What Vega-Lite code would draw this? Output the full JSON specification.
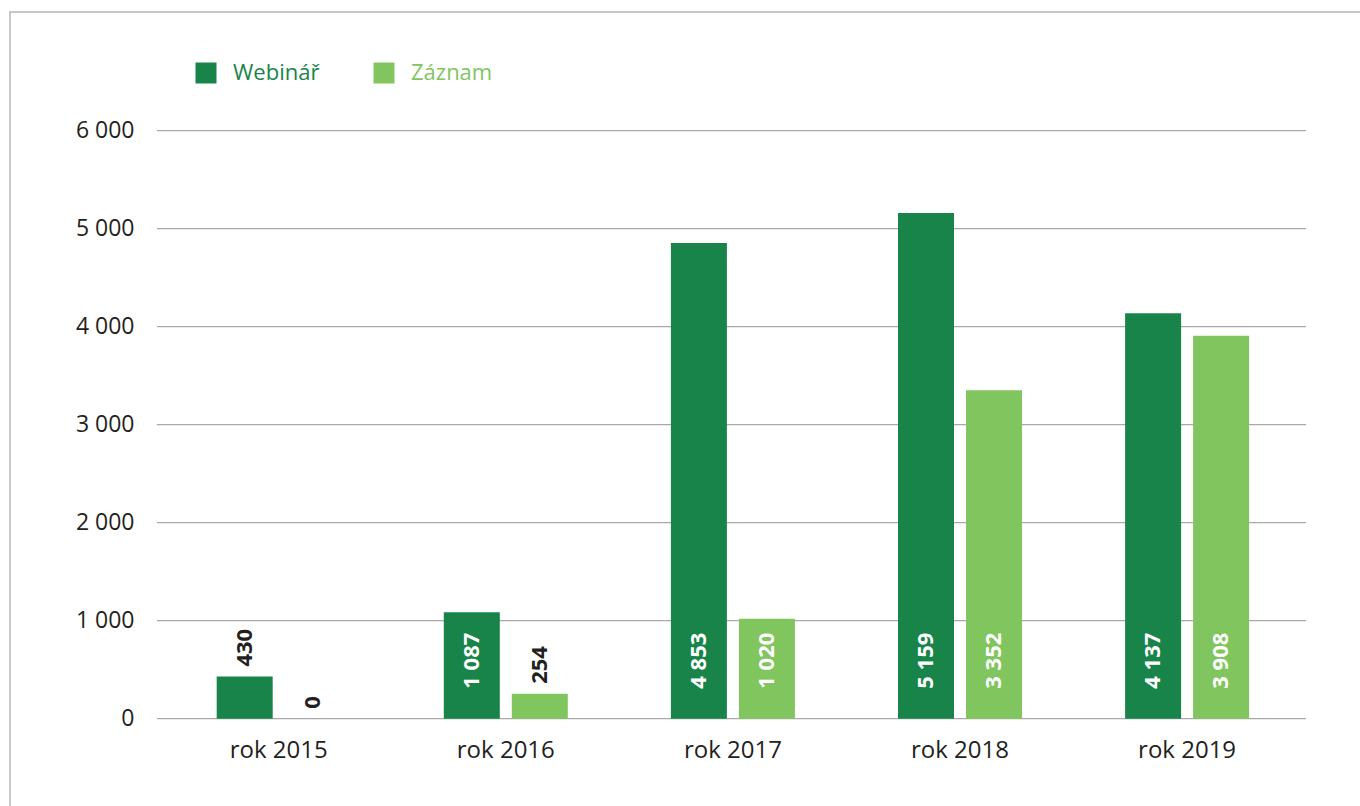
{
  "$schema": "https://vega.github.io/schema/vega-lite/v6.json",
  "width": 1354,
  "height": 798,
  "autosize": {"type": "none"},
  "padding": {"left": 10, "top": 12, "right": -4, "bottom": -4},
  "background": "white",
  "config": {
    "view": {"stroke": "#b5b5b5", "strokeWidth": 1.5},
    "font": "Open Sans",
    "locale": {"number": {"decimal": ",", "thousands": " ", "grouping": [3], "currency": ["", " Kč"]}}
  },
  "datasets": {
    "bars": [
      {"year": "rok 2015", "series": "Webinář", "value": 430},
      {"year": "rok 2015", "series": "Záznam", "value": 0},
      {"year": "rok 2016", "series": "Webinář", "value": 1087},
      {"year": "rok 2016", "series": "Záznam", "value": 254},
      {"year": "rok 2017", "series": "Webinář", "value": 4853},
      {"year": "rok 2017", "series": "Záznam", "value": 1020},
      {"year": "rok 2018", "series": "Webinář", "value": 5159},
      {"year": "rok 2018", "series": "Záznam", "value": 3352},
      {"year": "rok 2019", "series": "Webinář", "value": 4137},
      {"year": "rok 2019", "series": "Záznam", "value": 3908}
    ],
    "grid": [{"g": 0}, {"g": 1000}, {"g": 2000}, {"g": 3000}, {"g": 4000}, {"g": 5000}, {"g": 6000}]
  },
  "layer": [
    {
      "data": {"name": "grid"},
      "mark": {"type": "rule", "color": "#a9a9a9", "strokeWidth": 1.3},
      "encoding": {
        "y": {"field": "g", "type": "quantitative"},
        "x": {"datum": "rok 2015", "type": "nominal", "bandPosition": -0.036},
        "x2": {"datum": "rok 2019", "bandPosition": 1.024}
      }
    },
    {
      "data": {"name": "bars"},
      "mark": {"type": "bar"},
      "encoding": {
        "x": {
          "field": "year", "type": "nominal", "title": null,
          "scale": {"domain": ["rok 2015", "rok 2016", "rok 2017", "rok 2018", "rok 2019"], "paddingInner": 0, "paddingOuter": 0.48106, "align": 0.71007},
          "axis": {"domain": false, "ticks": false, "tickSize": 0, "offset": -91.3, "labelPadding": 39, "labelBaseline": "alphabetic", "labelAlign": "center", "labelFontSize": 24, "labelColor": "#231f20", "labelAngle": 0, "title": null}
        },
        "xOffset": {"field": "series", "type": "nominal", "scale": {"domain": ["Webinář", "Záznam"], "paddingInner": 0.1765, "paddingOuter": 0.758}},
        "y": {
          "field": "value", "type": "quantitative", "stack": null, "title": null,
          "scale": {"domain": [-931.6, 7211.2], "nice": false},
          "axis": {"values": [0, 1000, 2000, 3000, 4000, 5000, 6000], "labelExpr": "format(datum.value, ',')", "grid": false, "domain": false, "ticks": false, "tickSize": 0, "offset": -147, "labelPadding": 23, "labelFontSize": 23, "labelColor": "#231f20", "title": null}
        },
        "color": {
          "field": "series", "type": "nominal",
          "scale": {"domain": ["Webinář", "Záznam"], "range": ["#18844a", "#81c55f"]},
          "legend": {"orient": "none", "legendX": 185, "legendY": 50, "direction": "horizontal", "title": null, "symbolType": "square", "symbolSize": 441, "symbolStrokeWidth": 0, "labelFontSize": 22, "labelOffset": 16, "columnPadding": 53, "padding": 0, "encode": {"labels": {"update": {"fill": {"signal": "scale('color', datum.value)"}}}}}
        }
      }
    },
    {
      "data": {"name": "bars"},
      "transform": [{"filter": "datum.value < 500"}],
      "mark": {"type": "text", "angle": 270, "align": "left", "baseline": "middle", "dx": 10, "fontWeight": "bold", "fontSize": 22, "color": "#231f20"},
      "encoding": {
        "x": {"field": "year", "type": "nominal"},
        "xOffset": {"field": "series", "type": "nominal"},
        "y": {"field": "value", "type": "quantitative"},
        "text": {"field": "value", "type": "quantitative", "format": ","}
      }
    },
    {
      "data": {"name": "bars"},
      "transform": [{"filter": "datum.value >= 500"}],
      "mark": {"type": "text", "angle": 270, "align": "left", "baseline": "middle", "dx": 30, "fontWeight": "bold", "fontSize": 22, "color": "white"},
      "encoding": {
        "x": {"field": "year", "type": "nominal"},
        "xOffset": {"field": "series", "type": "nominal"},
        "y": {"datum": 0, "type": "quantitative"},
        "text": {"field": "value", "type": "quantitative", "format": ","}
      }
    }
  ]
}
